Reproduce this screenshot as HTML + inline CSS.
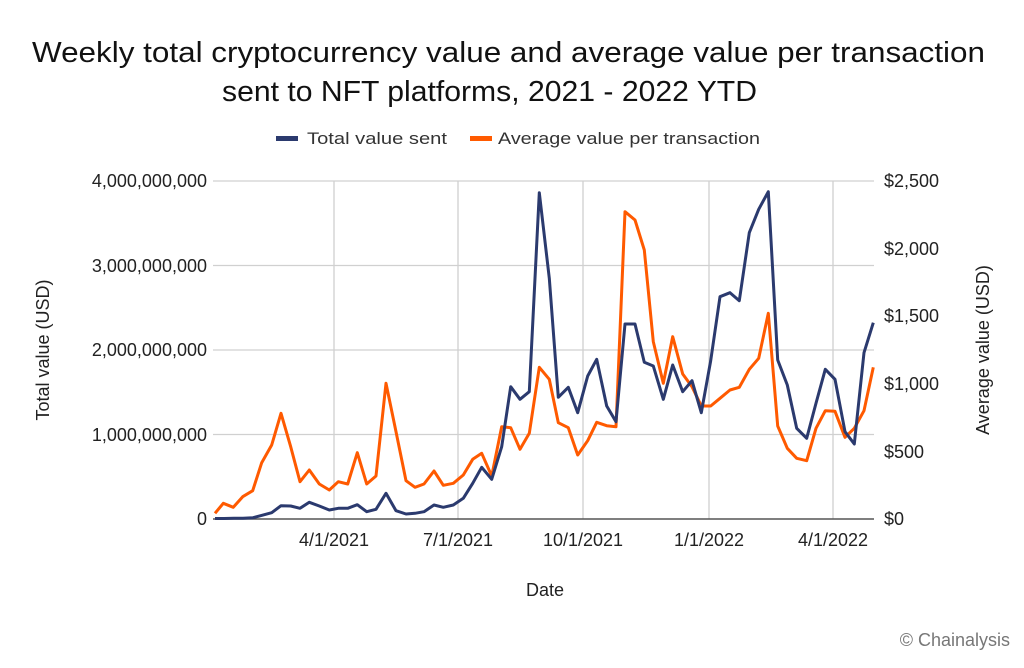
<!DOCTYPE html>
<html><head><meta charset="utf-8"><style>
body{margin:0;background:#fff;}
svg{display:block;font-family:"Liberation Sans",sans-serif;}
</style></head><body>
<svg width="1024" height="668" viewBox="0 0 1024 668">
<text x="32" y="62" font-size="29" fill="#111" textLength="953" lengthAdjust="spacingAndGlyphs">Weekly total cryptocurrency value and average value per transaction</text>
<text x="222" y="101" font-size="29" fill="#111" textLength="535" lengthAdjust="spacingAndGlyphs">sent to NFT platforms, 2021 - 2022 YTD</text>
<rect x="276" y="136" width="22" height="5" fill="#2b3a6e"/>
<text x="307" y="144" font-size="17" fill="#333" textLength="140" lengthAdjust="spacingAndGlyphs">Total value sent</text>
<rect x="470" y="136" width="22" height="5" fill="#ff5a00"/>
<text x="498" y="144" font-size="17" fill="#333" textLength="262" lengthAdjust="spacingAndGlyphs">Average value per transaction</text>
<g stroke="#d0d0d0" stroke-width="1.3">
<line x1="213" y1="181" x2="874" y2="181"/>
<line x1="213" y1="265.5" x2="874" y2="265.5"/>
<line x1="213" y1="350" x2="874" y2="350"/>
<line x1="213" y1="434.5" x2="874" y2="434.5"/>
<line x1="334" y1="181" x2="334" y2="519"/>
<line x1="458" y1="181" x2="458" y2="519"/>
<line x1="583" y1="181" x2="583" y2="519"/>
<line x1="709" y1="181" x2="709" y2="519"/>
<line x1="833" y1="181" x2="833" y2="519"/>
</g>
<line x1="213" y1="519" x2="874" y2="519" stroke="#555" stroke-width="1.5"/>
<g font-size="18" fill="#222" text-anchor="end">
<text x="207" y="187">4,000,000,000</text>
<text x="207" y="272">3,000,000,000</text>
<text x="207" y="356">2,000,000,000</text>
<text x="207" y="441">1,000,000,000</text>
<text x="207" y="525">0</text>
</g>
<g font-size="18" fill="#222">
<text x="884" y="187">$2,500</text>
<text x="884" y="255">$2,000</text>
<text x="884" y="322">$1,500</text>
<text x="884" y="390">$1,000</text>
<text x="884" y="458">$500</text>
<text x="884" y="525">$0</text>
</g>
<g font-size="18" fill="#222" text-anchor="middle">
<text x="334" y="546">4/1/2021</text>
<text x="458" y="546">7/1/2021</text>
<text x="583" y="546">10/1/2021</text>
<text x="709" y="546">1/1/2022</text>
<text x="833" y="546">4/1/2022</text>
<text x="545" y="596">Date</text>
</g>
<text transform="translate(49,350) rotate(-90)" font-size="18" fill="#222" text-anchor="middle">Total value (USD)</text>
<text transform="translate(989,350) rotate(-90)" font-size="18" fill="#222" text-anchor="middle">Average value (USD)</text>
<polyline fill="none" stroke="#ff5a00" stroke-width="3" stroke-linejoin="round" points="215,513.3 223.3,503.3 233.3,507.3 242.7,496.7 252.7,490.7 261.7,462.7 271.7,445 281,413.3 290.7,446.7 300,481.7 309.3,470 319.3,484 329.3,490 338.3,481.7 347.7,484 357.3,452.7 366.7,484 376,476 386,383.3 396,431.7 406,480.7 415,487.3 424,484 434,471 443.3,485.3 453.3,483.3 463.3,475 472.7,459.3 481.7,453.3 491.7,476 501.7,426.7 510.7,427.7 520,449.3 529.3,433.3 539.3,367.3 549.3,379.3 558.3,422.7 568.3,427.7 577.7,455 587.7,440.7 596.7,422.3 606.7,425.7 616,426.7 625,211.7 635,220 644.3,250 653.3,341.7 663.3,383.3 672.7,336.7 682.7,374 692,386.7 701.3,406 710.7,406 720,398.3 730,390 739.3,387.3 749.3,369.3 758.7,358.3 768.3,313.3 777.7,426 787.3,448.3 796.7,458.3 806.7,460.7 816,428.3 825.3,410.7 835,411.3 845,437.3 854.3,428.3 864,410.7 873.3,367.3"/>
<polyline fill="none" stroke="#2b3a6e" stroke-width="3" stroke-linejoin="round" points="215,518.5 224,518.5 234,518.3 243,518.2 253,517.7 262,515.3 271.7,512.7 281,505.7 290.7,506 300,508.3 309.3,502.3 319.3,506 329.3,510 338.3,508.3 347.7,508.3 357.3,504.7 366.7,511.7 376,509.3 386,493.3 396,510.7 406,514 415,513.3 424,511.7 434,505 443.3,507.3 453.3,505 463.3,498.3 472.7,483.3 481.7,467.3 491.7,479.3 501.7,446.7 510.7,386.7 520,399.3 529.3,391.7 539.3,192.7 549.3,278.3 558.3,397.3 568.3,387.3 577.7,412.7 587.7,376 596.7,359.3 606.7,406 616,421.7 625,324 635,324 644.3,362.3 653.3,366 663.3,399.3 672.7,365 682.7,391.7 692,380.7 701.3,412.7 710.7,360.7 720,296.7 730,292.7 739.3,300.7 749.3,232.7 758.7,209.3 768.3,191.7 777.7,360 787.3,385 796.7,428.3 806.7,438.3 816,403.3 825.3,369.3 835,379.3 845,431.7 854.3,444 864,352.7 873.3,322.7"/>
<text x="1010" y="646" font-size="18" fill="#777" text-anchor="end">© Chainalysis</text>
</svg>
</body></html>
